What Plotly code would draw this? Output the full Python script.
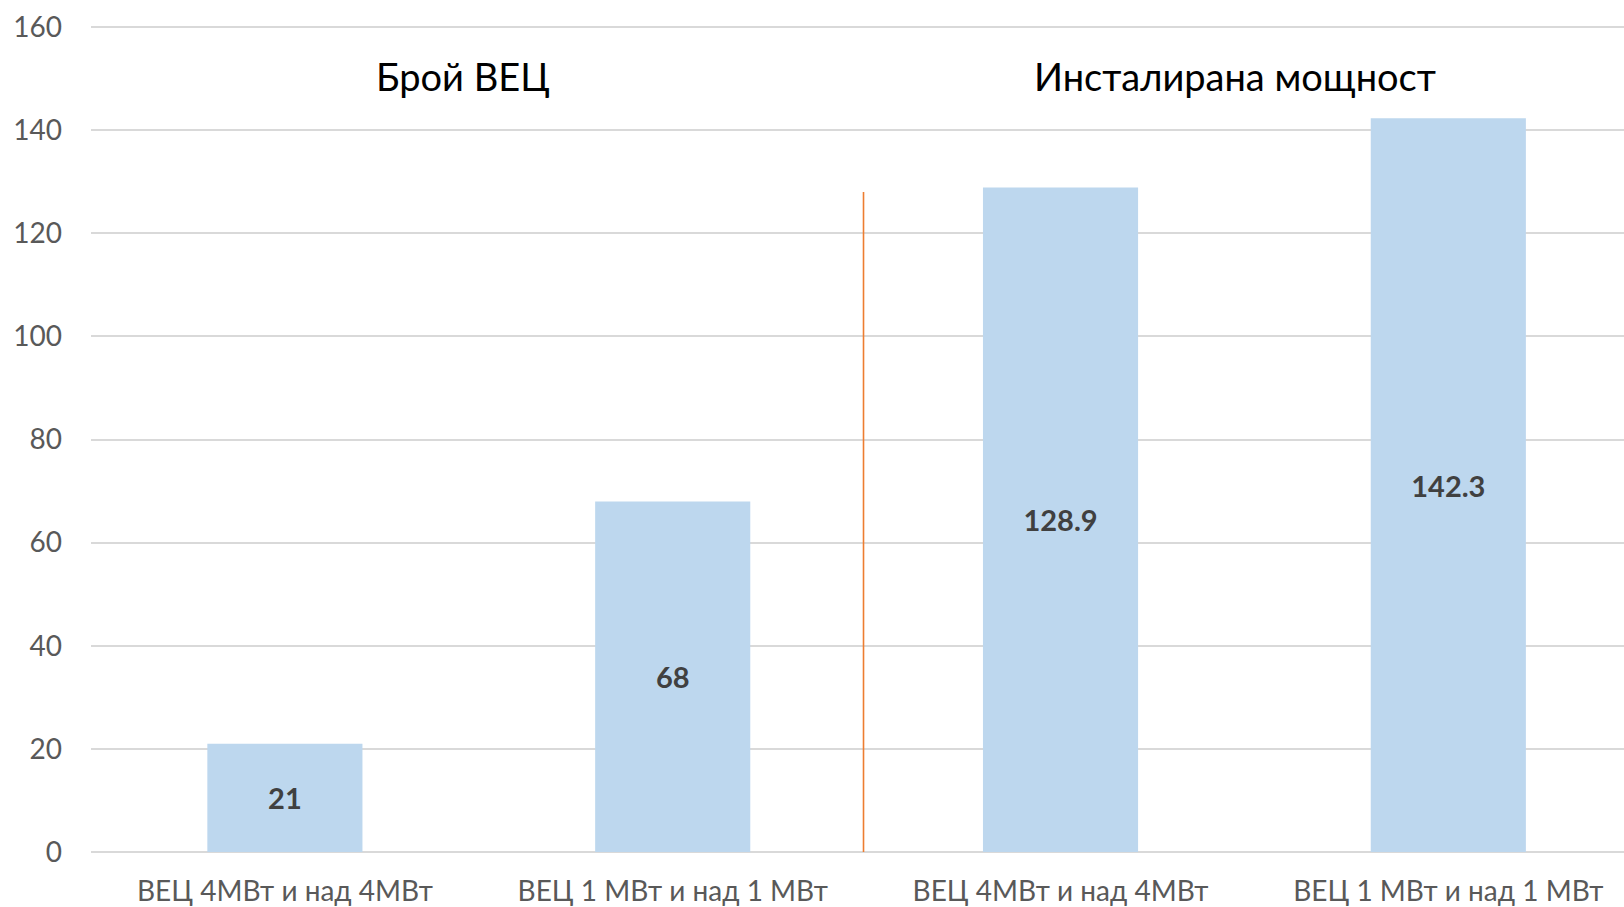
import plotly.graph_objects as go

categories = ["ВЕЦ 4МВт и над 4МВт", "ВЕЦ 1 МВт и над 1 МВт", "ВЕЦ 4МВт и над 4МВт ", "ВЕЦ 1 МВт и над 1 МВт "]
values = [21, 68, 128.9, 142.3]
value_labels = ["21", "68", "128.9", "142.3"]
group_titles = ["Брой ВЕЦ", "Инсталирана мощност"]
y_ticks = [0, 20, 40, 60, 80, 100, 120, 140, 160]

FONT = "Lato, 'Open Sans', sans-serif"

fig = go.Figure()
fig.add_trace(go.Bar(
    x=list(range(len(categories))),
    y=values,
    text=value_labels,
    textposition="inside",
    insidetextanchor="middle",
    textfont=dict(family=FONT, size=29, color="#404040", weight="bold"),
    marker=dict(color="#BDD7EE", line=dict(width=0)),
    width=0.4,
    hoverinfo="skip",
))

# separator line between the two groups
fig.add_shape(type="line", xref="x", yref="y", x0=1.492, x1=1.492, y0=0, y1=128,
              line=dict(color="#ED7D31", width=1.6))

# group titles
for xpos, t in zip([0.46, 2.45], group_titles):
    fig.add_annotation(x=xpos, y=150.6, xref="x", yref="y", text=t, showarrow=False,
                       font=dict(family=FONT, size=38, color="#000000"),
                       xanchor="center", yanchor="middle")

fig.update_layout(
    width=1624, height=907,
    margin=dict(l=91, r=0, t=25, b=55),
    paper_bgcolor="white", plot_bgcolor="white",
    showlegend=False,
    xaxis=dict(
        range=[-0.5, 3.453],
        automargin=False,
        tickmode="array",
        tickvals=list(range(len(categories))),
        ticktext=[c.strip() for c in categories],
        tickfont=dict(family=FONT, size=28, color="#595959"),
        showgrid=False, zeroline=False, showline=False, ticks="",
        ticklabelstandoff=20,
    ),
    yaxis=dict(
        range=[0, 160.4],
        automargin=False,
        tickmode="array",
        tickvals=y_ticks,
        tickfont=dict(family=FONT, size=28, color="#595959"),
        showgrid=True, gridcolor="#D9D9D9", gridwidth=1.5,
        zeroline=True, zerolinecolor="#D9D9D9", zerolinewidth=1.5,
        showline=False, ticks="",
        ticklabelstandoff=28,
    ),
)

fig.write_html("out.html", config={"displayModeBar": False},
               post_script="document.body.style.margin='0';document.body.style.overflow='hidden';")
